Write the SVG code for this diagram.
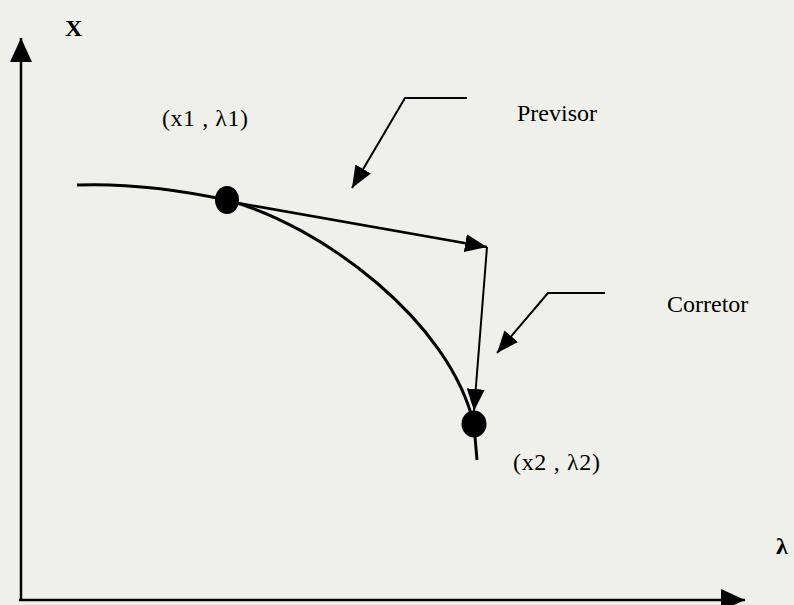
<svg xmlns="http://www.w3.org/2000/svg" width="794" height="605" viewBox="0 0 794 605">
<style>
.ln{fill:none;stroke:#000;stroke-linecap:butt;stroke-linejoin:round}
.lbl{font-family:"Liberation Serif","Times New Roman",serif;font-size:24px;fill:#000}
.dot{fill:#000}
</style>
<defs>
<marker id="axh" viewBox="0 0 24 22" refX="24" refY="11" markerWidth="24" markerHeight="22" orient="auto" markerUnits="userSpaceOnUse"><path d="M0,0 L24,11 L0,22 z" fill="#000"/></marker>
<marker id="ah" viewBox="0 0 22 18" refX="22" refY="9" markerWidth="22" markerHeight="18" orient="auto" markerUnits="userSpaceOnUse"><path d="M0,0 L22,9 L0,18 z" fill="#000"/></marker>
</defs>
<rect width="794" height="605" fill="#f0f0eb"/>
<g id="axes">
<line class="ln" x1="21" y1="600" x2="21" y2="38" stroke-width="2.5" marker-end="url(#axh)"/>
<line class="ln" x1="19" y1="600" x2="745" y2="600" stroke-width="2.5" marker-end="url(#axh)"/>
<text class="lbl" x="65" y="36" font-weight="bold">X</text>
<text class="lbl" x="776" y="554" font-weight="bold">λ</text>
</g>
<g id="curve">
<path class="ln" d="M77,185 C130,183 180,190 227,200 C320,225 450,320 474,425 L477,460" stroke-width="3"/>
</g>
<g id="point1">
<ellipse class="dot" cx="227" cy="200" rx="12" ry="14"/>
<text class="lbl" x="162" y="126" textLength="86" lengthAdjust="spacing">(x1 , λ1)</text>
</g>
<g id="point2">
<ellipse class="dot" cx="474" cy="424" rx="12.5" ry="13.5"/>
<text class="lbl" x="513" y="470" textLength="87" lengthAdjust="spacing">(x2 , λ2)</text>
</g>
<g id="previsor">
<text class="lbl" x="517" y="121">Previsor</text>
</g>
<g id="corretor">
<text class="lbl" x="667" y="312">Corretor</text>
</g>
<g id="connectors">
<line class="ln" x1="232" y1="202" x2="487" y2="247" stroke-width="2.5" marker-end="url(#ah)"/>
<line class="ln" x1="487" y1="247" x2="474" y2="411" stroke-width="2" marker-end="url(#ah)"/>
<polyline class="ln" points="467,98 405,98 352,188" stroke-width="2" marker-end="url(#ah)"/>
<polyline class="ln" points="605,293 548,293 497,353" stroke-width="2" marker-end="url(#ah)"/>
</g>
</svg>
